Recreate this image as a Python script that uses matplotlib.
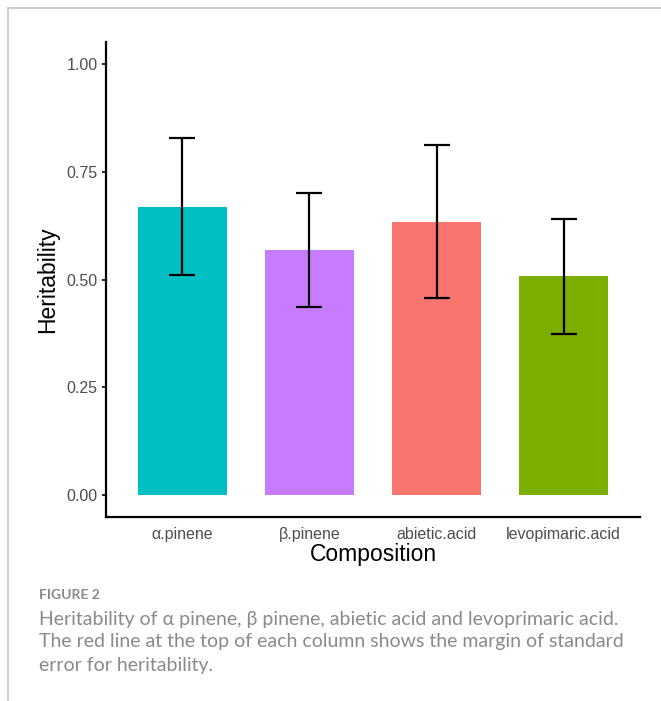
import numpy as np
import matplotlib
matplotlib.use("Agg")
import matplotlib.pyplot as plt
from matplotlib.lines import Line2D

# data
categories = ["α.pinene", "β.pinene", "abietic.acid", "levopimaric.acid"]
heritability = [0.669, 0.569, 0.634, 0.507]
std_err = [0.158, 0.132, 0.177, 0.133]
bar_colors = ["#00BFC4", "#C77CFF", "#F8766D", "#7CAE00"]
y_ticks = [0.00, 0.25, 0.50, 0.75, 1.00]

caption_head = "FIGURE 2"
caption_lines = [
    "Heritability of α pinene, β pinene, abietic acid and levoprimaric acid.",
    "The red line at the top of each column shows the margin of standard",
    "error for heritability.",
]

fig = plt.figure(figsize=(6.61, 7.01), dpi=100)
W, H = 661, 701

ax = fig.add_axes([106 / W, 1 - 517 / H, (640 - 106) / W, (517 - 42) / H])
x = np.arange(1, len(categories) + 1)
ax.bar(x, heritability, width=0.7, color=bar_colors, zorder=1)
ax.errorbar(x, heritability, yerr=std_err, fmt="none", ecolor="black",
            elinewidth=1.6, capsize=9.7, capthick=1.6, zorder=2)

ax.set_xlim(0.4, len(categories) + 0.6)
ax.set_ylim(-0.05, 1.05)
ax.set_xticks(x)
ax.set_xticklabels(categories)
ax.set_yticks(y_ticks)
ax.set_yticklabels([f"{t:.2f}" for t in y_ticks])

for side in ["top", "right"]:
    ax.spines[side].set_visible(False)
for side in ["left", "bottom"]:
    ax.spines[side].set_linewidth(1.6)
    ax.spines[side].set_color("black")

ax.tick_params(axis="x", length=0, pad=7, labelsize=11.5, labelcolor="#4D4D4D")
ax.tick_params(axis="y", length=3, width=1.2, pad=3, labelsize=11.5,
               labelcolor="#4D4D4D")
for lab in ax.get_xticklabels() + ax.get_yticklabels():
    lab.set_family(["Liberation Sans", "DejaVu Sans"])

ax.set_xlabel("Composition", fontsize=16.5, family="Liberation Sans", labelpad=1)
ax.set_ylabel("Heritability", fontsize=16.5, family="Liberation Sans", labelpad=5)

# frame lines of the page
fig.add_artist(Line2D([8 / W, 1], [1 - 8 / H, 1 - 8 / H], color="#c8c8c8", lw=1.2))
fig.add_artist(Line2D([8 / W, 8 / W], [0, 1 - 8 / H], color="#c8c8c8", lw=1.2))

# caption
fig.text(39 / W, 1 - 595 / H, caption_head, fontsize=10, color="#8a8a8a",
         family="Lato", weight="bold", va="center")
for i, line in enumerate(caption_lines):
    fig.text(39 / W, 1 - (619 + i * 23) / H, line, fontsize=14,
             color="#8a8a8a", family=["Lato", "DejaVu Sans"], va="center")

fig.savefig("out.png", dpi=100)
